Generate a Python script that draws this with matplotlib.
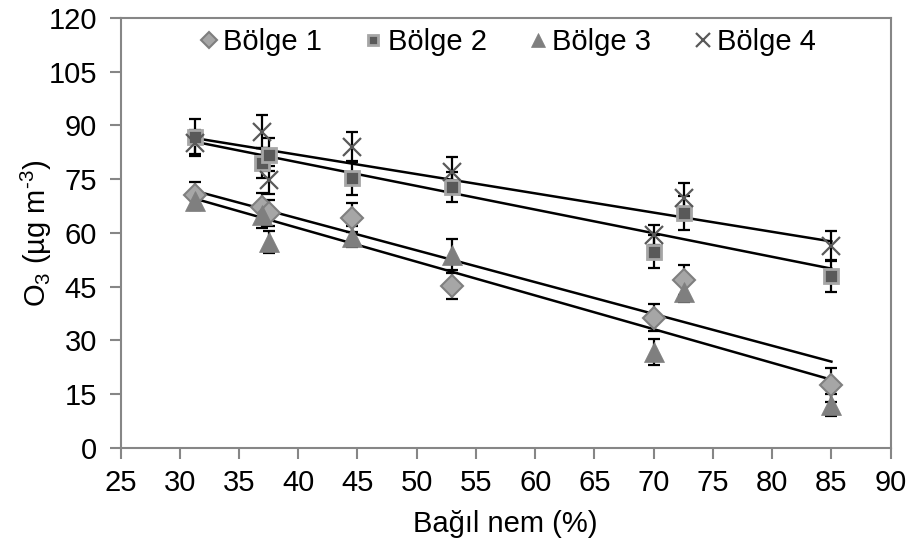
import matplotlib.pyplot as plt
import numpy as np

plt.rcParams['font.family'] = ['Liberation Sans', 'DejaVu Sans']
plt.rcParams['mathtext.fontset'] = 'custom'
plt.rcParams['mathtext.rm'] = 'Liberation Sans'
plt.rcParams['mathtext.it'] = 'Liberation Sans:italic'

# nem değerleri (x) ve bölgelere göre O3 ortalamaları
nem = [31.3, 36.9, 37.5, 44.5, 53.0, 70.0, 72.6, 85.0]
bolge1 = [70.5, 67.3, 65.6, 64.3, 45.2, 36.4, 47.0, 17.6]
bolge2 = [86.9, 79.5, 81.8, 75.3, 72.9, 54.8, 65.5, 48.0]
bolge3 = [69.0, 65.0, 57.5, 59.0, 53.9, 26.8, 43.6, 12.0]
bolge4 = [85.1, 88.3, 74.8, 84.1, 77.1, 59.4, 69.7, 56.4]

hata1 = [3.8, 3.8, 3.6, 4.0, 3.5, 3.8, 4.2, 4.8]
hata2 = [4.8, 4.2, 4.6, 4.8, 4.2, 4.6, 4.7, 4.4]
hata3 = [2.6, 3.5, 3.1, 3.0, 4.3, 3.5, 2.9, 3.1]
hata4 = [3.6, 4.6, 4.0, 4.2, 4.2, 2.8, 4.3, 4.2]

etiketler = ['Bölge 1', 'Bölge 2', 'Bölge 3', 'Bölge 4']

stiller = [
    dict(marker='D', ms=11, mfc='#A6A6A6', mec='#7F7F7F', mew=1.5),
    dict(marker='s', ms=10.5, mfc='#595959', mec='#A6A6A6', mew=2),
    dict(marker='^', ms=14, mfc='#7F7F7F', mec='#7F7F7F', mew=0.5),
    dict(marker='x', ms=13, mfc='none', mec='#595959', mew=1.6),
]

fig = plt.figure(figsize=(9.15, 5.55), dpi=100)
ax = fig.add_axes([0.1317, 0.1928, 0.8417, 0.7748])

x = np.array(nem)
serler = [bolge1, bolge2, bolge3, bolge4]
hatalar = [hata1, hata2, hata3, hata4]
tutamaclar = []
for y, e, st, lab in zip(serler, hatalar, stiller, etiketler):
    ax.errorbar(x, y, yerr=e, fmt='none', ecolor='black', elinewidth=1.6,
                capsize=4.5, capthick=1.6, zorder=3)
    h, = ax.plot(x, y, linestyle='none', zorder=4, label=lab, **st)
    tutamaclar.append(h)
    # doğrusal eğilim çizgisi
    k = np.polyfit(x, y, 1)
    xs = np.array([x.min(), x.max()])
    ax.plot(xs, np.polyval(k, xs), color='black', lw=1.8, zorder=2)

ax.set_xlim(25, 90)
ax.set_ylim(0, 120)
ax.set_xticks(range(25, 91, 5))
ax.set_yticks(range(0, 121, 15))
ax.tick_params(axis='both', labelsize=21, color='#868686', width=1.5, length=8)
ax.tick_params(axis='y', pad=9)
ax.tick_params(axis='x', pad=7)
for sp in ax.spines.values():
    sp.set_color('#868686')
    sp.set_linewidth(1.5)

ax.set_xlabel('Bağıl nem (%)', fontsize=21)
ax.xaxis.set_label_coords(0.5, -0.145)
ax.set_ylabel('O$_3$ (µg m$^{\\text{-}3}$)', fontsize=21)
ax.yaxis.set_label_coords(-0.086, 0.5)

fig.legend(handles=tutamaclar, ncol=4, loc='center', bbox_to_anchor=(508 / 915, 1 - 42 / 555),
           frameon=False, fontsize=21, markerscale=0.75, handlelength=0.6,
           handletextpad=0.2, columnspacing=1.45, borderaxespad=0)

fig.savefig('out.png', dpi=100)
